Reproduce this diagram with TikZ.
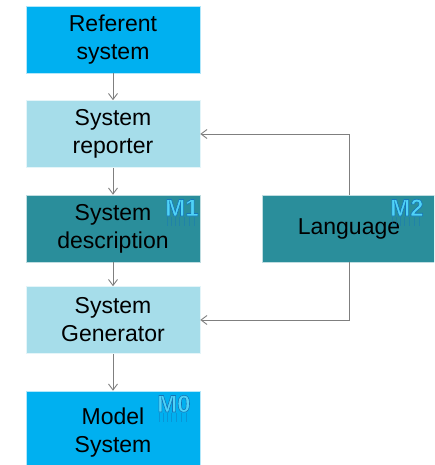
\documentclass[tikz,border=0pt]{standalone}
\usepackage{fontspec}
\setmainfont{Liberation Sans}
\usetikzlibrary{arrows.meta}

\definecolor{skyblue}{HTML}{00B0F0}
\definecolor{paleblue}{HTML}{A6DDEA}
\definecolor{tealbox}{HTML}{2A8E9B}
\definecolor{linegray}{HTML}{7F7F7F}
\definecolor{artfill}{HTML}{4FD3F7}
\definecolor{artline}{HTML}{1576B8}

\tikzset{
  box/.style={draw=white!70!#1, line width=0.6pt, fill=#1,
    minimum width=174pt, minimum height=67pt, inner sep=0pt,
    align=center, text=black,
    font=\fontsize{23}{28}\selectfont},
  conn/.style={draw=linegray, line width=0.9pt,
    -{Straight Barb[length=6pt,width=9pt,line width=0.9pt]}},
  martfont/.style={font=\fontsize{24}{24}\bfseries\selectfont,
    inner sep=0pt, anchor=base west, text=artfill},
  streak/.style={draw=artline, line width=0.5pt, opacity=0.45},
}

% outlined text: fill in the current colour, stroke in artline
\newcommand\outlined[1]{%
  \special{pdf:code q 2 Tr 0.6 w 0.082 0.463 0.722 RG}#1\special{pdf:code Q}}

% level tag in a word-art style, with faint streaks below it
\newcommand\leveltag[4]{% name, x, y (baseline), text
  \foreach \sx in {2,6,10,14,19,24,29}
    \draw[streak] (#2+\sx,#3+1) -- (#2+\sx,#3+10);
  \node[martfont] (#1) at (#2,#3) {\outlined{#4}};
}

\begin{document}
\begin{tikzpicture}[x=1pt,y=-1pt]
  \useasboundingbox (0,0) rectangle (434,465);
  \clip (0,0) rectangle (434,465);

  \node[box=skyblue]  (ref)  at (113,39.5)  {Referent\\system};
  \node[box=paleblue] (rep)  at (113,134)   {System\\reporter};
  \node[box=tealbox]  (desc) at (113,228.5) {System\\description};
  \node[box=paleblue] (gen)  at (113,320)   {System\\Generator};
  \node[box=skyblue, minimum height=84pt] (mod) at (113,433)
    {Model\\System};
  \node[box=tealbox, minimum width=174pt] (lang) at (349,228.5) {Language};

  \draw[conn] (ref) -- (rep);
  \draw[conn] (rep) -- (desc);
  \draw[conn] (desc) -- (gen);
  \draw[conn] (gen) -- (mod.north);
  \draw[conn] (lang.north) |- (rep.east);
  \draw[conn] (lang.south) |- (gen.east);

  \leveltag{m1}{165}{216}{M1}
  \leveltag{m2}{390}{216}{M2}
  \leveltag{m0}{157}{412}{M0}
\end{tikzpicture}
\end{document}
